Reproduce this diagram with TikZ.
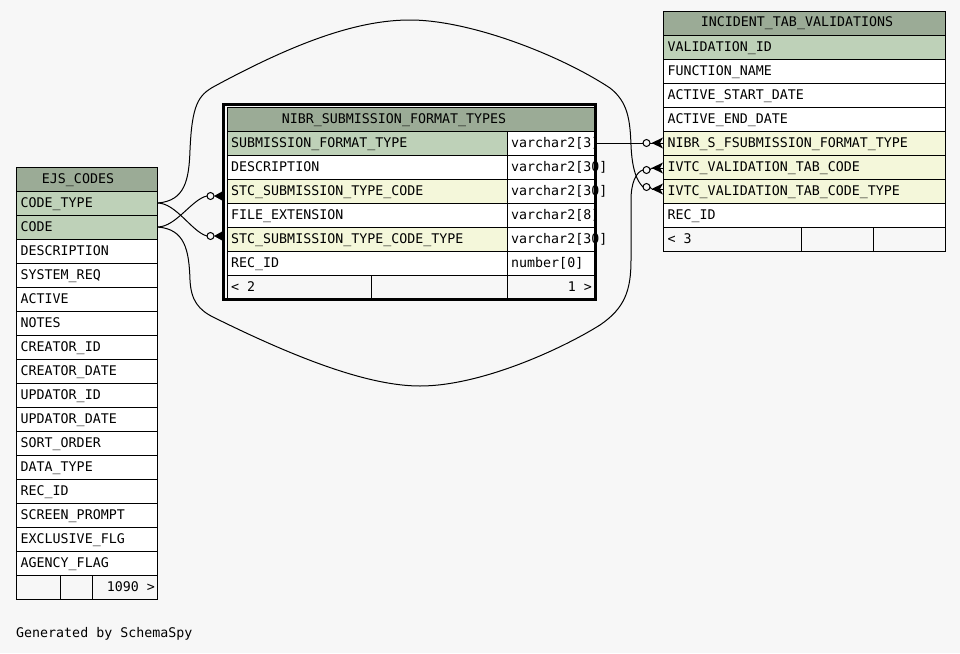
\documentclass[tikz,border=0pt]{standalone}
\usepackage{fontspec}
\newfontfamily\dbmono{DejaVu Sans Mono}
\usetikzlibrary{calc}
\definecolor{bgc}{HTML}{F7F7F7}
\definecolor{headc}{HTML}{9BAB96}
\definecolor{pkc}{HTML}{BED1B8}
\definecolor{fkc}{HTML}{F4F7DA}
\tikzset{
  rowbox/.style={draw=black, line width=1pt, rectangle, inner sep=0pt, outer sep=0pt, minimum height=24pt},
  rowtxt/.style={anchor=base west, inner sep=0pt, font={\dbmono\fontsize{13.3}{16}\selectfont}},
  rowtxtr/.style={anchor=base east, inner sep=0pt, font={\dbmono\fontsize{13.3}{16}\selectfont}},
  hdtxt/.style={anchor=base, inner sep=0pt, font={\dbmono\fontsize{13.3}{16}\selectfont}},
  circ/.style={circle, draw=black, fill=bgc, line width=1pt, minimum size=7pt, inner sep=0pt, outer sep=0pt},
  link/.style={draw=black, line width=1pt},
  crow/.style={fill=black},
  focusborder/.style={draw=black, line width=3pt}
}
\newcommand\dbrow[6]{%
  \node[rowbox, fill=#5, minimum width={#3pt-#2pt}] (#1) at ({(#2+#3)/2},{#4+12}) {};
  \node[rowtxt] (#1t) at ({#2+4},{#4+16}) {#6};}
\newcommand\dbcell[5]{%
  \node[rowbox, fill=#5, minimum width={#3pt-#2pt}] (#1) at ({(#2+#3)/2},{#4+12}) {};}
\begin{document}
\begin{tikzpicture}[x=1pt,y=-1pt]
\fill[bgc] (0,0) rectangle (960,653);
\useasboundingbox (0,0) rectangle (960,653);

% ---------------- EJS_CODES ----------------
\dbcell{ejsh}{16.5}{157.5}{167}{headc}
\node[hdtxt] (ejsht) at (78,183) {EJS\_CODES};
\foreach \i/\t/\f in {0/CODE\_TYPE/pkc,1/CODE/pkc,2/DESCRIPTION/white,3/SYSTEM\_REQ/white,
  4/ACTIVE/white,5/NOTES/white,6/CREATOR\_ID/white,7/CREATOR\_DATE/white,8/UPDATOR\_ID/white,
  9/UPDATOR\_DATE/white,10/SORT\_ORDER/white,11/DATA\_TYPE/white,12/REC\_ID/white,
  13/SCREEN\_PROMPT/white,14/EXCLUSIVE\_FLG/white,15/AGENCY\_FLAG/white}{
  \dbrow{ejs\i}{16.5}{157.5}{191+24*\i}{\f}{\t}
}
\dbcell{ejsfa}{16.5}{60.5}{575}{bgc}
\dbcell{ejsfb}{60.5}{92.5}{575}{bgc}
\dbcell{ejsfc}{92.5}{157.5}{575}{bgc}
\node[rowtxtr] (ejsft) at (155,591) {1090 >};

% ---------------- NIBR_SUBMISSION_FORMAT_TYPES ----------------
\dbcell{nsh}{227}{594}{107}{headc}
\node[hdtxt] (nsht) at (394,123) {NIBR\_SUBMISSION\_FORMAT\_TYPES};
\foreach \i/\t/\f/\ty in {0/SUBMISSION\_FORMAT\_TYPE/pkc/{varchar2[3]},1/DESCRIPTION/white/{varchar2[30]},
  2/STC\_SUBMISSION\_TYPE\_CODE/fkc/{varchar2[30]},3/FILE\_EXTENSION/white/{varchar2[8]},
  4/STC\_SUBMISSION\_TYPE\_CODE\_TYPE/fkc/{varchar2[30]},5/REC\_ID/white/{number[0]}}{
  \dbrow{ns\i}{227}{507}{131+24*\i}{\f}{\t}
  \dbrow{nsty\i}{507}{594}{131+24*\i}{white}{\ty}
}
\dbcell{nsfa}{227}{371.5}{275}{bgc}
\dbcell{nsfb}{371.5}{507}{275}{bgc}
\dbcell{nsfc}{507}{594}{275}{bgc}
\node[rowtxt] (nsfl) at (231,291) {< 2};
\node[rowtxtr] (nsfr) at (592,291) {1 >};
\draw[focusborder] (223.5,104.5) rectangle (595.5,299.5);

% ---------------- INCIDENT_TAB_VALIDATIONS ----------------
\dbcell{itvh}{663.5}{945.5}{11}{headc}
\node[hdtxt] (itvht) at (797,27) {INCIDENT\_TAB\_VALIDATIONS};
\foreach \i/\t/\f in {0/VALIDATION\_ID/pkc,1/FUNCTION\_NAME/white,2/ACTIVE\_START\_DATE/white,
  3/ACTIVE\_END\_DATE/white,4/NIBR\_S\_FSUBMISSION\_FORMAT\_TYPE/fkc,5/IVTC\_VALIDATION\_TAB\_CODE/fkc,
  6/IVTC\_VALIDATION\_TAB\_CODE\_TYPE/fkc,7/REC\_ID/white}{
  \dbrow{itv\i}{663.5}{945.5}{35+24*\i}{\f}{\t}
}
\dbcell{itvfa}{663.5}{801.5}{227}{bgc}
\dbcell{itvfb}{801.5}{873.5}{227}{bgc}
\dbcell{itvfc}{873.5}{945.5}{227}{bgc}
\node[rowtxt] (itvft) at (667.5,243) {< 3};

% ---------------- end markers ----------------
\node[circ] (lc1) at (210.5,196) {};
\node[circ] (lc2) at (210.5,236) {};
\coordinate (la1) at (214,196);
\coordinate (la2) at (214,236);
\fill[crow] (la1) -- ++(9,-5) -- ++(0,10) -- cycle;
\fill[crow] (la2) -- ++(9,-5) -- ++(0,10) -- cycle;

\node[circ] (rc1) at (646.5,143) {};
\node[circ] (rc2) at (646.5,170) {};
\node[circ] (rc3) at (646.5,187) {};
\coordinate (ra1) at (651.5,143);
\coordinate (ra2) at (651.5,168);
\coordinate (ra3) at (651.5,189);
\foreach \k in {1,2,3}{
  \draw[link] (rc\k.east) -- (ra\k);
  \fill[crow] (ra\k) -- ++(11.5,-5.5) -- ++(-3,5.5) -- ++(3,5.5) -- cycle;
  \draw[link] (ra\k) -- ++(11.5,0);
}

% ---------------- connectors ----------------
\draw[link] (ejs0.east) .. controls (176,203) and (192,232) .. (lc2.west);
\draw[link] (ejs1.east) .. controls (176,227) and (192,199) .. (lc1.west);
\draw[link] (nsty0.east) -- (rc1.west);
\draw[link] (ejs0.east) .. controls (185,201) and (189,180) .. (190,150)
  .. controls (192,105) and (198,95) .. (215,86)
  .. controls (300,40) and (360,20) .. (410,20)
  .. controls (470,20) and (560,55) .. (610,88)
  .. controls (628,102) and (630,120) .. (631,145)
  .. controls (632,170) and (637,181) .. (rc3.west);
\draw[link] (ejs1.east) .. controls (185,229) and (189,250) .. (190,280)
  .. controls (191,300) and (198,310) .. (215,318)
  .. controls (300,360) and (370,386) .. (420,386)
  .. controls (480,386) and (560,350) .. (600,325)
  .. controls (625,308) and (631,290) .. (631,260)
  -- (631,200)
  .. controls (631,183) and (636,172) .. (rc2.west);

\node[rowtxt] (gen) at (16,637) {Generated by SchemaSpy};
\end{tikzpicture}
\end{document}
